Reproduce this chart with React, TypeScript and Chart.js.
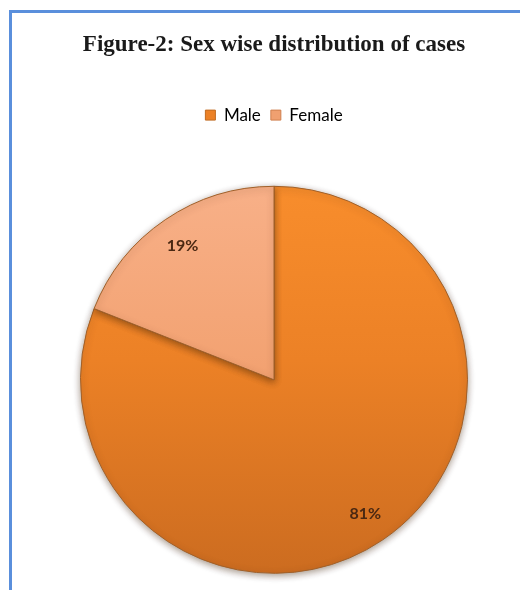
import React, { useEffect, useRef } from "react";
import { Chart, registerables } from "chart.js";

Chart.register(...registerables);

const titleText = "Figure-2: Sex wise distribution of cases";
const categories = ["Male", "Female"];
const values = [81, 19];
const valueLabels = ["81%", "19%"];

const legendSpacer = {
  id: "legendSpacer",
  beforeInit(chart: any) {
    const lg = chart.legend;
    if (!lg) return;
    const orig = lg.fit;
    lg.fit = function () {
      orig.call(this);
      this.height += 52;
    };
  },
};

const pieShadow = {
  id: "pieShadow",
  beforeDatasetsDraw(chart: any) {
    const ctx = chart.ctx;
    ctx.save();
    ctx.shadowColor = "rgba(60,30,0,0.45)";
    ctx.shadowBlur = 7;
    ctx.shadowOffsetX = 0;
    ctx.shadowOffsetY = 2;
  },
  afterDatasetsDraw(chart: any) {
    chart.ctx.restore();
  },
};

const sliceLabels = {
  id: "sliceLabels",
  afterDatasetsDraw(chart: any) {
    const ctx = chart.ctx;
    const meta = chart.getDatasetMeta(0);
    ctx.save();
    ctx.font = "bold 16px Lato, 'Liberation Sans', sans-serif";
    ctx.fillStyle = "#4a2812";
    ctx.textAlign = "center";
    ctx.textBaseline = "middle";
    meta.data.forEach((arc: any, i: number) => {
      const { x, y, startAngle, endAngle, outerRadius } = arc.getProps(
        ["x", "y", "startAngle", "endAngle", "outerRadius"],
        true
      );
      const mid = (startAngle + endAngle) / 2;
      const r = outerRadius * 0.84;
      ctx.fillText(valueLabels[i], x + Math.cos(mid) * r, y + Math.sin(mid) * r);
    });
    ctx.restore();
  },
};

function makeFill(context: any, i: number) {
  const chart = context.chart;
  const area = chart.chartArea;
  const fallback = i === 0 ? "#E8802A" : "#F0A57A";
  if (!area) return fallback;
  const g = chart.ctx.createLinearGradient(0, area.top, 0, area.bottom);
  if (i === 0) {
    g.addColorStop(0, "#F88D2C");
    g.addColorStop(0.45, "#EC8126");
    g.addColorStop(1, "#CC6C20");
  } else {
    g.addColorStop(0, "#F8B088");
    g.addColorStop(0.5, "#F2A170");
    g.addColorStop(1, "#E48E5E");
  }
  return g;
}

export default function App() {
  const ref = useRef<HTMLCanvasElement | null>(null);
  useEffect(() => {
    if (!ref.current) return;
    const chart = new Chart(ref.current, {
      type: "pie",
      data: {
        labels: categories,
        datasets: [
          {
            data: values,
            backgroundColor: (c: any) => makeFill(c, c.dataIndex),
            borderColor: "#a0602a",
            borderWidth: 1,
          },
        ],
      },
      options: {
        responsive: false,
        animation: false,
        layout: { padding: { left: 80, right: 52, top: 0, bottom: 16 } },
        plugins: {
          title: {
            display: true,
            text: titleText,
            color: "#1a1a1a",
            font: { family: "'Liberation Serif', 'Times New Roman', serif", size: 23, weight: "bold" },
            padding: { top: 31, bottom: 38 },
          },
          legend: {
            display: true,
            position: "top",
            labels: {
              boxWidth: 10,
              boxHeight: 10,
              padding: 10,
              color: "#555555",
              font: { family: "Lato, 'Liberation Sans', sans-serif", size: 17 },
              generateLabels: () =>
                categories.map((t, i) => ({
                  text: t,
                  fillStyle: i === 0 ? "#EC8126" : "#F0A070",
                  strokeStyle: i === 0 ? "#c06a20" : "#d08050",
                  lineWidth: 1,
                  hidden: false,
                  index: i,
                  datasetIndex: 0,
                })),
            },
          },
          tooltip: { enabled: false },
        },
      },
      plugins: [legendSpacer, pieShadow, sliceLabels],
    });
    return () => chart.destroy();
  }, []);
  return (
    <div style={{ position: "fixed", left: 0, top: 0, width: 520, height: 590, background: "#fff", overflow: "hidden" }}>
      <div
        style={{
          position: "absolute",
          left: 9,
          top: 10,
          width: 600,
          height: 700,
          borderTop: "3px solid #5a8fdc",
          borderLeft: "3px solid #5a8fdc",
        }}
      />
      <canvas ref={ref} width={520} height={590} style={{ position: "absolute", left: 0, top: 0 }} />
    </div>
  );
}
